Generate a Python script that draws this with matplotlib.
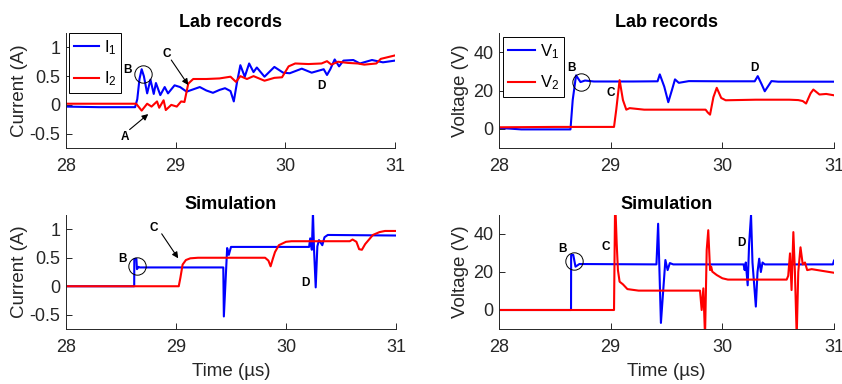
import matplotlib
matplotlib.use("Agg")
import matplotlib.pyplot as plt

plt.rcParams['font.family'] = ['Liberation Sans', 'DejaVu Sans']
plt.rcParams['mathtext.default'] = 'regular'
plt.rcParams['axes.unicode_minus'] = False

# ---------------- data ----------------
# Lab records, current
lab_i1_t = [28.0, 28.3, 28.63, 28.65, 28.67, 28.69, 28.71, 28.74, 28.77, 28.80, 28.82, 28.86, 28.90, 28.93,
            28.99, 29.04, 29.10, 29.16, 29.22, 29.28, 29.34, 29.40, 29.45, 29.50, 29.53, 29.56, 29.59, 29.63,
            29.67, 29.71, 29.74, 29.81, 29.90, 29.98, 30.04, 30.15, 30.24, 30.35, 30.38, 30.41, 30.45, 30.49,
            30.53, 30.62, 30.68, 30.79, 30.89, 31.0]
lab_i1_v = [-0.03, -0.04, -0.04, 0.10, 0.45, 0.62, 0.50, 0.20, 0.44, 0.19, 0.38, 0.17, 0.31, 0.20,
            0.34, 0.31, 0.23, 0.27, 0.31, 0.25, 0.21, 0.26, 0.29, 0.24, 0.06, 0.40, 0.69, 0.49,
            0.72, 0.57, 0.65, 0.49, 0.66, 0.56, 0.55, 0.63, 0.56, 0.62, 0.52, 0.62, 0.79, 0.67,
            0.77, 0.78, 0.72, 0.78, 0.74, 0.77]
lab_i2_t = [28.0, 28.3, 28.64, 28.69, 28.74, 28.78, 28.83, 28.85, 28.89, 28.91, 28.96, 29.01, 29.05, 29.08,
            29.115, 29.16, 29.28, 29.40, 29.50, 29.55, 29.59, 29.65, 29.71, 29.81, 29.90, 29.97, 30.03, 30.09,
            30.21, 30.33, 30.38, 30.42, 30.48, 30.57, 30.66, 30.72, 30.83, 30.87, 31.0]
lab_i2_v = [0.02, 0.02, 0.02, -0.10, 0.02, -0.03, 0.06, -0.05, 0.08, -0.09, 0.00, -0.03, 0.06, 0.05,
            0.37, 0.45, 0.45, 0.46, 0.49, 0.40, 0.50, 0.45, 0.50, 0.42, 0.47, 0.48, 0.67, 0.72,
            0.71, 0.72, 0.76, 0.70, 0.75, 0.73, 0.72, 0.70, 0.72, 0.80, 0.86]

# Lab records, voltage
lab_v1_t = [28.0, 28.2, 28.4, 28.64, 28.66, 28.69, 28.73, 28.77, 28.85, 29.2, 29.42, 29.44, 29.48, 29.516,
            29.55, 29.576, 29.61, 29.7, 30.0, 30.29, 30.317, 30.35, 30.38, 30.44, 30.5, 31.0]
lab_v1_v = [0.5, -0.3, -0.3, -0.3, 15, 27.9, 24.4, 25.2, 24.7, 24.7, 24.8, 28.4, 22.0, 13.9,
            20.5, 25.8, 24.0, 24.9, 24.8, 24.8, 27.5, 23.5, 19.6, 24.9, 24.6, 24.6]
lab_v2_t = [28.0, 28.5, 29.03, 29.05, 29.08, 29.11, 29.14, 29.17, 29.3, 29.6, 29.85, 29.87, 29.89,
            29.92, 29.95, 29.99, 30.03, 30.3, 30.6, 30.68, 30.72, 30.75, 30.79, 30.815, 30.87, 30.93, 31.0]
lab_v2_v = [0.8, 1.0, 1.0, 10, 25.4, 15, 10, 10.8, 10, 10, 10, 8.5, 7.4,
            16.5, 21.4, 16.1, 14.9, 15.2, 15.2, 15.0, 14.5, 13.2, 18.5, 20.5, 17.9, 18.2, 17.5]

# Simulation, current
sim_i1_t = [28.0, 28.62, 28.621, 28.64, 28.645, 28.66, 28.67, 29.43, 29.435, 29.465, 29.48, 29.50,
            30.21, 30.22, 30.235, 30.245, 30.255, 30.27, 30.285, 30.30, 30.33, 30.35, 30.38, 31.0]
sim_i1_v = [0, 0, 0.48, 0.48, 0.30, 0.34, 0.33, 0.33, -0.53, 0.67, 0.55, 0.69,
            0.69, 0.84, 0.64, 1.30, 0.64, -0.02, 0.70, 0.81, 0.72, 0.86, 0.90, 0.89]
sim_i2_t = [28.0, 29.025, 29.04, 29.06, 29.09, 29.13, 29.2, 29.81, 29.84, 29.86, 29.88, 29.90, 29.935,
            30.0, 30.05, 30.58, 30.605, 30.64, 30.665, 30.69, 30.72, 30.79, 30.85, 30.9, 31.0]
sim_i2_v = [0, 0, 0.15, 0.38, 0.46, 0.49, 0.50, 0.50, 0.45, 0.35, 0.48, 0.60, 0.72,
            0.78, 0.79, 0.79, 0.82, 0.78, 0.65, 0.64, 0.74, 0.90, 0.95, 0.97, 0.97]

# Simulation, voltage
sim_v1_t = [28.0, 28.645, 28.646, 28.665, 28.685, 28.72, 29.41, 29.425, 29.45, 29.49, 29.51, 29.53,
            29.56, 30.19, 30.20, 30.21, 30.227, 30.24, 30.257, 30.27, 30.30, 30.315, 30.33, 30.345,
            30.36, 30.38, 30.99, 31.0]
sim_v1_v = [0, 0, 29, 29, 22.8, 24.2, 24, 45.4, -6.8, 26.3, 21, 24.7,
            24, 24, 21, 25, 13, 35, 50, 25, 1.8, 20, 27, 20,
            25, 24, 24, 26]
sim_v2_t = [28.0, 29.03, 29.04, 29.054, 29.065, 29.08, 29.11, 29.15, 29.25, 29.80, 29.815, 29.83,
            29.845, 29.86, 29.874, 29.89, 29.90, 29.91, 29.95, 30.0, 30.05, 30.576, 30.59, 30.606,
            30.62, 30.636, 30.65, 30.666, 30.68, 30.70, 30.72, 30.74, 30.76, 30.80, 31.0]
sim_v2_v = [0, 0, 58, 35, 21, 14.9, 13.5, 11, 10.2, 10.2, 0, 11.4,
            -14, 31.6, 42, 21, 22.8, 20.2, 18.4, 16.7, 16, 16, 18, 29.8,
            10.5, 41, 20, -14, 20, 33, 24, 25, 21, 21.5, 19.6]

xticks = [28, 29, 30, 31]
i_ticks = [-0.5, 0, 0.5, 1]
i_ticklabels = ['-0.5', '0', '0.5', '1']
v_ticks = [0, 20, 40]

BLUE = '#0000FF'
RED = '#FF0000'
GREY = '#262626'

fig = plt.figure(figsize=(8.42, 3.84), dpi=100)

def style(ax, ylim, yticks, yticklabels=None):
    ax.set_xlim(28, 31)
    ax.set_ylim(*ylim)
    ax.set_xticks(xticks)
    ax.set_xticklabels([str(x) for x in xticks])
    ax.set_yticks(yticks)
    if yticklabels is not None:
        ax.set_yticklabels(yticklabels)
    for s in ['top', 'right']:
        ax.spines[s].set_visible(False)
    for s in ['left', 'bottom']:
        ax.spines[s].set_color(GREY)
        ax.spines[s].set_linewidth(0.7)
    ax.tick_params(direction='in', length=4, width=0.7, colors=GREY, labelsize=13)
    ax.tick_params(axis='x', pad=7)
    ax.tick_params(axis='y', pad=4)

def letter(ax, x, y, s):
    ax.text(x, y, s, fontsize=8.5, fontweight='bold', ha='center', va='center', color='k', zorder=5)

def circ(ax, x, y):
    ax.plot([x], [y], marker='o', markersize=12.5, mfc='none', mec='k', mew=0.7)

def arrow(ax, xy_from, xy_to):
    ax.annotate('', xy=xy_to, xytext=xy_from,
                arrowprops=dict(arrowstyle='-|>', color='k', lw=0.8, mutation_scale=9, shrinkA=0, shrinkB=0))

def legend(ax, anchor, hl):
    leg = ax.legend(loc='upper left', bbox_to_anchor=anchor, borderaxespad=0, fancybox=False,
                    edgecolor='k', fontsize=12, handlelength=hl, labelspacing=0.78, borderpad=0.3,
                    handletextpad=0.3, framealpha=1)
    leg.get_frame().set_linewidth(0.7)
    leg.set_zorder(3)

lw = 1.5
# ---- top-left
ax1 = fig.add_axes([66/842, 1-148/384, 329/842, 115/384])
ax1.plot(lab_i1_t, lab_i1_v, color=BLUE, lw=lw, label='I$_1$')
ax1.plot(lab_i2_t, lab_i2_v, color=RED, lw=lw, label='I$_2$')
style(ax1, (-0.75, 1.25), i_ticks, i_ticklabels)
ax1.set_ylabel('Current (A)', fontsize=13.5, color=GREY, labelpad=1)
ax1.set_title('Lab records', fontsize=13, fontweight='bold', pad=4)
legend(ax1, (0.008, 1.0), 1.5)
letter(ax1, 28.56, 0.60, 'B')
circ(ax1, 28.70, 0.53)
letter(ax1, 28.92, 0.89, 'C')
arrow(ax1, (28.96, 0.78), (29.115, 0.345))
letter(ax1, 28.54, -0.55, 'A')
arrow(ax1, (28.58, -0.43), (28.75, -0.16))
letter(ax1, 30.33, 0.33, 'D')

# ---- top-right
ax2 = fig.add_axes([499/842, 1-148/384, 335/842, 115/384])
ax2.plot(lab_v1_t, lab_v1_v, color=BLUE, lw=lw, label='V$_1$')
ax2.plot(lab_v2_t, lab_v2_v, color=RED, lw=lw, label='V$_2$')
style(ax2, (-10, 50), v_ticks)
ax2.set_ylabel('Voltage (V)', fontsize=13.5, color=GREY, labelpad=3)
ax2.set_title('Lab records', fontsize=13, fontweight='bold', pad=4)
legend(ax2, (0.013, 0.965), 1.6)
letter(ax2, 28.65, 31.6, 'B')
circ(ax2, 28.73, 24.4)
letter(ax2, 28.997, 18.8, 'C')
letter(ax2, 30.29, 31.9, 'D')

# ---- bottom-left
ax3 = fig.add_axes([66/842, 1-329/384, 330/842, 114/384])
ax3.plot(sim_i1_t, sim_i1_v, color=BLUE, lw=lw)
ax3.plot(sim_i2_t, sim_i2_v, color=RED, lw=lw)
style(ax3, (-0.75, 1.25), i_ticks, i_ticklabels)
ax3.set_ylabel('Current (A)', fontsize=13.5, color=GREY, labelpad=1)
ax3.set_xlabel('Time (µs)', fontsize=13.5, color=GREY, labelpad=5)
ax3.set_title('Simulation', fontsize=13, fontweight='bold', pad=4)
letter(ax3, 28.51, 0.47, 'B')
circ(ax3, 28.645, 0.36)
letter(ax3, 28.80, 1.02, 'C')
arrow(ax3, (28.87, 0.92), (29.02, 0.49))
letter(ax3, 30.18, 0.06, 'D')

# ---- bottom-right
ax4 = fig.add_axes([499/842, 1-329/384, 335/842, 114/384])
ax4.plot(sim_v1_t, sim_v1_v, color=BLUE, lw=lw)
ax4.plot(sim_v2_t, sim_v2_v, color=RED, lw=lw)
style(ax4, (-10, 50), v_ticks)
ax4.set_ylabel('Voltage (V)', fontsize=13.5, color=GREY, labelpad=3)
ax4.set_xlabel('Time (µs)', fontsize=13.5, color=GREY, labelpad=5)
ax4.set_title('Simulation', fontsize=13, fontweight='bold', pad=4)
letter(ax4, 28.57, 31.9, 'B')
circ(ax4, 28.675, 25.8)
letter(ax4, 28.96, 33.2, 'C')
letter(ax4, 30.17, 35.4, 'D')

fig.savefig('out.png', dpi=100)
